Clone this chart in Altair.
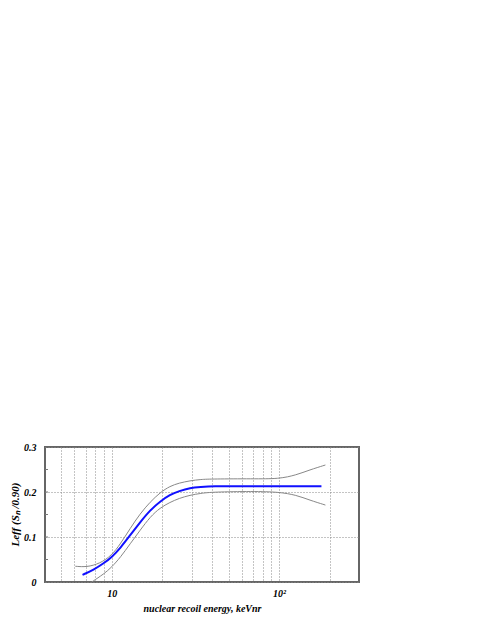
import altair as alt
import pandas as pd

# central curve
mean_e = [6.7, 7.8, 9.0, 10, 11.3, 12.9, 14.8, 17.0, 19.5, 22.3, 25.3, 29.4, 34, 40, 60, 100, 179]
mean_v = [0.016, 0.027, 0.042, 0.055, 0.076, 0.104, 0.133, 0.160, 0.179, 0.194, 0.202, 0.209, 0.211, 0.213, 0.213, 0.213, 0.213]

# upper band
up_e = [6.07, 7.1, 8.5, 10, 11.3, 12.9, 14.8, 17, 19.5, 22.3, 25.3, 29.4, 34, 40, 70, 100, 127, 152, 189]
up_v = [0.035, 0.033, 0.041, 0.059, 0.085, 0.119, 0.152, 0.178, 0.199, 0.213, 0.220, 0.225, 0.228, 0.229, 0.2295, 0.229, 0.238, 0.249, 0.260]

# lower band
lo_e = [7.6, 9.0, 10, 11.3, 12.9, 14.8, 17, 19.5, 22.3, 25.3, 29.4, 34, 40, 70, 100, 127, 152, 189]
lo_v = [0.0, 0.018, 0.033, 0.055, 0.085, 0.115, 0.145, 0.165, 0.177, 0.186, 0.193, 0.197, 0.200, 0.2015, 0.200, 0.193, 0.182, 0.171]

x_grid = [5, 6, 7, 8, 9, 10, 20, 30, 40, 50, 60, 70, 80, 90, 100, 200]
y_ticks = [0, 0.1, 0.2, 0.3]
y_minor = [0.05, 0.1, 0.15, 0.2, 0.25]

FONT = "Liberation Serif"

xscale = alt.Scale(type="log", domain=[4, 300], nice=False)
yscale = alt.Scale(domain=[0, 0.3], nice=False)

xaxis = alt.Axis(
    values=x_grid,
    labelExpr="datum.value == 10 ? '10' : (datum.value == 100 ? '10²' : '')",
    grid=True, gridDash=[1, 2], gridColor="#888", gridWidth=1,
    ticks=False, domain=False,
    labelFont=FONT, labelFontSize=10, labelFontWeight="bold", labelFontStyle="italic",
    labelColor="black", labelPadding=6,
    title="nuclear recoil energy, keVnr",
    titleFont=FONT, titleFontSize=10, titleFontWeight="bold", titleFontStyle="italic",
    titleColor="black", titlePadding=5,
)
yaxis = alt.Axis(
    values=y_ticks,
    labelExpr="datum.value == 0 ? '0' : format(datum.value, '.1f')",
    grid=True, gridDash=[1, 2], gridColor="#888", gridWidth=1,
    ticks=False, domain=False,
    labelFont=FONT, labelFontSize=10, labelFontWeight="bold", labelFontStyle="italic",
    labelColor="black", labelPadding=9,
    title="Leff (Sₙ /0.90)",
    titleFont=FONT, titleFontSize=11, titleFontWeight="bold", titleFontStyle="italic",
    titleColor="black", titleX=-30, titleY=67, titleAngle=270,
    titleAlign="center", titleBaseline="middle",
)

mean_df = pd.DataFrame({"e": mean_e, "v": mean_v})
up_df = pd.DataFrame({"e": up_e, "v": up_v})
lo_df = pd.DataFrame({"e": lo_e, "v": lo_v})
minor_df = pd.DataFrame({"v": y_minor})

def curve(df, color, width):
    return alt.Chart(df).mark_line(color=color, strokeWidth=width, interpolate="basis").encode(
        x=alt.X("e:Q", scale=xscale, axis=xaxis),
        y=alt.Y("v:Q", scale=yscale, axis=yaxis),
    )

upper = curve(up_df, "#888888", 1)
lower = curve(lo_df, "#888888", 1)
mean = curve(mean_df, "#1010ff", 2)

minor = alt.Chart(minor_df).mark_rule(color="#777777", strokeWidth=1).encode(
    x=alt.value(0), x2=alt.value(3),
    y=alt.Y("v:Q", scale=yscale, axis=yaxis),
)

chart = alt.layer(minor, upper, lower, mean).properties(
    width=314, height=135,
    autosize=alt.AutoSizeParams(type="none"),
    padding={"left": 37, "top": 439, "right": 110, "bottom": 37},
).configure(background="white").configure_view(stroke="#666666", strokeWidth=2)

chart.save("out.html", embed_options={"renderer": "svg", "actions": False})
